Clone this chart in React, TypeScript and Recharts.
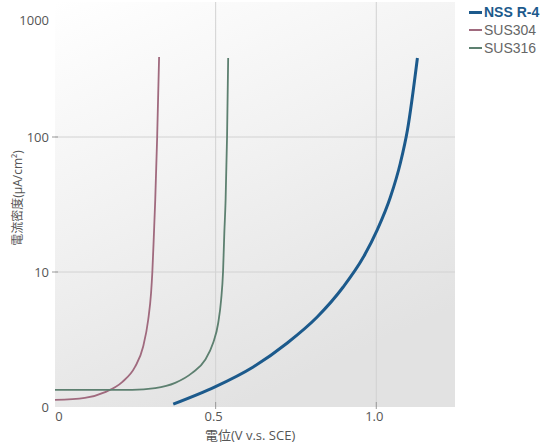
import React from "react";
import { LineChart, Line, XAxis, YAxis, CartesianGrid } from "recharts";

// 電位 (V v.s. SCE) と 電流密度 (µA/cm²) — 図から読み取った値
const sus304Potential = [0, 0.093, 0.156, 0.209, 0.249, 0.274, 0.29, 0.299, 0.303, 0.308, 0.312, 0.318, 0.324];
const sus304Current = [1.13, 1.17, 1.29, 1.53, 1.98, 2.78, 4.41, 6.99, 10, 19.4, 34.2, 100, 391];

const sus316Potential = [0, 0.24, 0.312, 0.374, 0.427, 0.467, 0.492, 0.508, 0.517, 0.523, 0.527, 0.531, 0.5355, 0.539];
const sus316Current = [1.34, 1.34, 1.38, 1.51, 1.79, 2.23, 2.98, 4.19, 6.2, 10, 19.4, 34.2, 100, 385];

const nssPotential = [0.368, 0.498, 0.617, 0.723, 0.816, 0.897, 0.96, 1.003, 1.044, 1.075, 1.097, 1.128];
const nssCurrent = [1.05, 1.41, 1.98, 2.98, 4.64, 7.74, 12.9, 20.5, 35.9, 64.2, 112.7, 385];

const xTicks = [0, 0.5, 1.0];
const xTickLabels: Record<number, string> = { 0: "0", 0.5: "0.5", 1: "1.0" };
const yTicks = [1, 10, 100, 1000];
const yTickLabels: Record<number, string> = { 1: "0", 10: "10", 100: "100", 1000: "1000" };

const toRows = (xs: number[], ys: number[]) => xs.map((x, i) => ({ x, y: ys[i] }));
const sus304Data = toRows(sus304Potential, sus304Current);
const sus316Data = toRows(sus316Potential, sus316Current);
const nssData = toRows(nssPotential, nssCurrent);

const series = [
  { name: "NSS R-4", color: "#1c5a8c", width: 3, bold: true, data: nssData },
  { name: "SUS304", color: "#a06a7e", width: 1.8, bold: false, data: sus304Data },
  { name: "SUS316", color: "#5d8070", width: 1.8, bold: false, data: sus316Data },
];

const FONT = "'Open Sans', 'Noto Sans CJK JP', sans-serif";
const TEXT = "#555";

const YTick = (props: any) => {
  const { x, y, payload } = props;
  const v = payload.value;
  const showLine = v === 10 || v === 100;
  return (
    <g>
      {showLine && <line x1={x - 3} x2={x + 3} y1={y} y2={y} stroke="#999" />}
      <text x={x - 6} y={y + (v === 1000 ? 15.5 : 4.5)} textAnchor="end" fontSize={13} fill={TEXT} fontFamily={FONT}>
        {yTickLabels[v]}
      </text>
    </g>
  );
};

const XTick = (props: any) => {
  const { x, y, payload } = props;
  const v = payload.value;
  return (
    <g>
      {v !== 0 && <line x1={x} x2={x} y1={y - 5} y2={y + 2} stroke="#999" />}
      <text x={x + (v === 0 ? 4 : -2)} y={y + 14} textAnchor="middle" fontSize={13} fill={TEXT} fontFamily={FONT}>
        {xTickLabels[v]}
      </text>
    </g>
  );
};

const LegendBox = () => (
  <div style={{ position: "absolute", left: 469, top: 3, fontFamily: "'Liberation Sans', Arial, sans-serif", fontSize: 14, lineHeight: "18px" }}>
    {series.map((s) => (
      <div key={s.name} style={{ display: "flex", alignItems: "center", height: 18, color: s.bold ? s.color : "#666", fontWeight: s.bold ? 700 : 400 }}>
        <span style={{ display: "inline-block", width: 13, height: s.bold ? 3 : 2, background: s.color, marginRight: 2 }} />
        {s.name}
      </div>
    ))}
  </div>
);

export default function App() {
  return (
    <div style={{ position: "absolute", left: 0, top: 0, width: 543, height: 445, background: "#fff" }}>
      <svg width={0} height={0} style={{ position: "absolute" }}>
        <defs>
          <linearGradient id="plotBg" x1="0" y1="0" x2="0.45" y2="1">
            <stop offset="0%" stopColor="#ffffff" />
            <stop offset="50%" stopColor="#f1f1f1" />
            <stop offset="100%" stopColor="#e2e2e2" />
          </linearGradient>
        </defs>
      </svg>
      <LineChart width={543} height={445} margin={{ top: 2, right: 88, left: 0, bottom: 0 }}>
        <CartesianGrid
          fill="url(#plotBg)"
          stroke="#d2d2d2"
          horizontalValues={[10, 100]}
          verticalValues={[0.5, 1]}
        />
        <XAxis
          type="number"
          dataKey="x"
          domain={[0, 1.245]}
          ticks={xTicks}
          allowDataOverflow
          height={38}
          axisLine={false}
          tickLine={false}
          tickSize={0}
          tickMargin={0}
          tick={<XTick />}
          label={{
            content: (p: any) => {
              const vb = p.viewBox;
              return (
                <text x={vb.x + 150} y={vb.y + 33} fontSize={13} fill={TEXT} fontFamily={FONT}>
                  電位(V v.s. SCE)
                </text>
              );
            },
          }}
        />
        <YAxis
          type="number"
          dataKey="y"
          scale="log"
          domain={[1, 1000]}
          ticks={yTicks}
          allowDataOverflow
          width={55}
          axisLine={false}
          tickLine={false}
          tickSize={0}
          tickMargin={0}
          tick={<YTick />}
          label={{
            content: (p: any) => {
              const vb = p.viewBox;
              const cx = vb.x + 19;
              const cy = vb.y + 196;
              return (
                <text x={cx} y={cy} transform={`rotate(-90 ${cx} ${cy})`} textAnchor="middle" dominantBaseline="middle" fontSize={12} fill={TEXT} fontFamily={FONT}>
                  電流密度(μA/cm²)
                </text>
              );
            },
          }}
        />
        {series.map((s) => (
          <Line
            key={s.name}
            data={s.data}
            dataKey="y"
            name={s.name}
            type="monotone"
            stroke={s.color}
            strokeWidth={s.width}
            dot={false}
            isAnimationActive={false}
          />
        ))}
      </LineChart>
      <LegendBox />
    </div>
  );
}
